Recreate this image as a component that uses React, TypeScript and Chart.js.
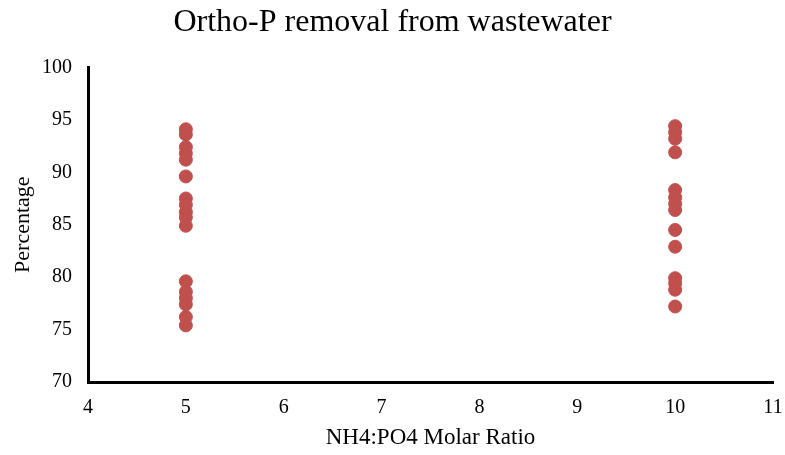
import React, { useEffect, useRef } from "react";
import { Chart, registerables } from "chart.js";

Chart.register(...registerables);

const ratio5Values = [94.1, 93.6, 92.4, 91.8, 91.2, 89.6, 87.5, 86.9, 86.2, 85.7, 84.9, 79.6, 78.6, 78.0, 77.4, 76.2, 75.4];
const ratio10Values = [94.4, 93.8, 93.2, 91.9, 88.3, 87.6, 87.0, 86.4, 84.5, 82.9, 79.9, 79.4, 78.8, 77.2];
const xRange = [4, 11];
const yRange = [70, 100];

const FONT = "'Liberation Serif', 'Times New Roman', serif";

export default function App() {
  const ref = useRef<HTMLCanvasElement | null>(null);
  useEffect(() => {
    if (!ref.current) return;
    const data = [
      ...ratio5Values.map((v) => ({ x: 5, y: v })),
      ...ratio10Values.map((v) => ({ x: 10, y: v })),
    ];
    const chart = new Chart(ref.current, {
      type: "scatter",
      data: {
        datasets: [
          {
            data,
            backgroundColor: "#C0504D",
            borderColor: "#C0504D",
            pointRadius: 6.5,
            pointHoverRadius: 6.5,
          },
        ],
      },
      options: {
        animation: false,
        responsive: true,
        maintainAspectRatio: false,
        layout: { padding: { left: 0, right: 0, top: 0, bottom: 0 } },
        plugins: {
          legend: { display: false },
          tooltip: { enabled: false },
          title: {
            display: true,
            text: "Ortho-P removal from wastewater",
            color: "#000",
            font: { family: FONT, size: 32, weight: "normal" },
            padding: { top: 3, bottom: 26 },
          },
        },
        scales: {
          x: {
            type: "linear",
            min: xRange[0],
            max: xRange[1],
            ticks: { stepSize: 1, color: "#000", font: { family: FONT, size: 20 }, padding: 14 },
            grid: { display: false, drawTicks: false },
            border: { display: true, color: "#000", width: 3 },
            title: {
              display: true,
              text: "NH4:PO4 Molar Ratio",
              color: "#000",
              font: { family: FONT, size: 23 },
              padding: { top: 0, bottom: 3 },
            },
            afterFit: (s: any) => {
              s.height = 73;
              s.paddingRight = 12;
              s.paddingLeft = 0;
            },
          },
          y: {
            type: "linear",
            min: yRange[0],
            max: yRange[1],
            ticks: { stepSize: 5, color: "#000", font: { family: FONT, size: 20 }, padding: 16 },
            grid: { display: false, drawTicks: false },
            border: { display: true, color: "#000", width: 3 },
            title: {
              display: true,
              text: "Percentage",
              color: "#000",
              font: { family: FONT, size: 22 },
              padding: { top: 10, bottom: 0 },
            },
            afterFit: (s: any) => {
              s.width = 88;
            },
          },
        },
      },
    });
    return () => chart.destroy();
  }, []);
  return (
    <div style={{ position: "fixed", left: 0, top: 0, width: 785, height: 455, background: "#fff" }}>
      <canvas ref={ref} />
    </div>
  );
}
